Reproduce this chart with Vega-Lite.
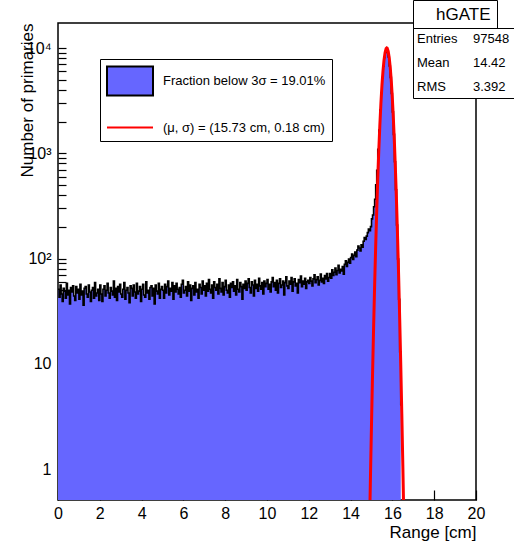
{
  "$schema": "https://vega.github.io/schema/vega-lite/v6.json",
  "width": 418,
  "height": 477,
  "autosize": {"type": "none"},
  "padding": {"left": 58, "top": 23, "right": 38, "bottom": 49},
  "background": "white",
  "config": {
    "font": "Liberation Sans",
    "view": {"stroke": "black", "strokeWidth": 1.5},
    "axis": {"domain": false, "grid": false, "labelColor": "black", "titleColor": "black", "tickColor": "black", "tickWidth": 1.2, "labelFont": "Liberation Sans", "titleFont": "Liberation Sans", "titleFontWeight": "normal", "labelOverlap": false, "labelFlush": false},
    "legend": {"labelFont": "Liberation Sans", "labelColor": "black", "titleFont": "Liberation Sans"}
  },
  "datasets": {
    "hist": [
      {"x":0,"n":51},{"x":0.05,"n":43},{"x":0.1,"n":56},{"x":0.15,"n":46},{"x":0.2,"n":39},{"x":0.25,"n":52},{"x":0.3,"n":49},{"x":0.35,"n":42},{"x":0.4,"n":58},{"x":0.45,"n":45},{"x":0.5,"n":50},{"x":0.55,"n":37},{"x":0.6,"n":53},{"x":0.65,"n":48},{"x":0.7,"n":55},{"x":0.75,"n":44},{"x":0.8,"n":40},{"x":0.85,"n":54},{"x":0.9,"n":47},{"x":0.95,"n":51},
      {"x":1,"n":41},{"x":1.05,"n":57},{"x":1.1,"n":45},{"x":1.15,"n":49},{"x":1.2,"n":36},{"x":1.25,"n":52},{"x":1.3,"n":54},{"x":1.35,"n":46},{"x":1.4,"n":43},{"x":1.45,"n":56},{"x":1.5,"n":48},{"x":1.55,"n":39},{"x":1.6,"n":50},{"x":1.65,"n":53},{"x":1.7,"n":42},{"x":1.75,"n":59},{"x":1.8,"n":44},{"x":1.85,"n":47},{"x":1.9,"n":51},{"x":1.95,"n":40},
      {"x":2,"n":56},{"x":2.05,"n":46},{"x":2.1,"n":39},{"x":2.15,"n":51},{"x":2.2,"n":55},{"x":2.25,"n":44},{"x":2.3,"n":50},{"x":2.35,"n":58},{"x":2.4,"n":47},{"x":2.45,"n":42},{"x":2.5,"n":53},{"x":2.55,"n":49},{"x":2.6,"n":45},{"x":2.65,"n":61},{"x":2.7,"n":43},{"x":2.75,"n":52},{"x":2.8,"n":40},{"x":2.85,"n":54},{"x":2.9,"n":48},{"x":2.95,"n":57},
      {"x":3,"n":46},{"x":3.05,"n":43},{"x":3.1,"n":51},{"x":3.15,"n":59},{"x":3.2,"n":41},{"x":3.25,"n":50},{"x":3.3,"n":53},{"x":3.35,"n":47},{"x":3.4,"n":38},{"x":3.45,"n":55},{"x":3.5,"n":52},{"x":3.55,"n":44},{"x":3.6,"n":56},{"x":3.65,"n":48},{"x":3.7,"n":42},{"x":3.75,"n":58},{"x":3.8,"n":46},{"x":3.85,"n":49},{"x":3.9,"n":54},{"x":3.95,"n":39},
      {"x":4,"n":51},{"x":4.05,"n":57},{"x":4.1,"n":45},{"x":4.15,"n":43},{"x":4.2,"n":60},{"x":4.25,"n":47},{"x":4.3,"n":50},{"x":4.35,"n":41},{"x":4.4,"n":53},{"x":4.45,"n":55},{"x":4.5,"n":44},{"x":4.55,"n":52},{"x":4.6,"n":37},{"x":4.65,"n":56},{"x":4.7,"n":49},{"x":4.75,"n":46},{"x":4.8,"n":58},{"x":4.85,"n":42},{"x":4.9,"n":51},{"x":4.95,"n":54},
      {"x":5,"n":50},{"x":5.05,"n":42},{"x":5.1,"n":57},{"x":5.15,"n":47},{"x":5.2,"n":54},{"x":5.25,"n":61},{"x":5.3,"n":45},{"x":5.35,"n":52},{"x":5.4,"n":49},{"x":5.45,"n":59},{"x":5.5,"n":41},{"x":5.55,"n":55},{"x":5.6,"n":48},{"x":5.65,"n":58},{"x":5.7,"n":51},{"x":5.75,"n":46},{"x":5.8,"n":53},{"x":5.85,"n":43},{"x":5.9,"n":57},{"x":5.95,"n":62},
      {"x":6,"n":47},{"x":6.05,"n":50},{"x":6.1,"n":54},{"x":6.15,"n":44},{"x":6.2,"n":60},{"x":6.25,"n":49},{"x":6.3,"n":56},{"x":6.35,"n":40},{"x":6.4,"n":52},{"x":6.45,"n":55},{"x":6.5,"n":45},{"x":6.55,"n":59},{"x":6.6,"n":48},{"x":6.65,"n":51},{"x":6.7,"n":42},{"x":6.75,"n":57},{"x":6.8,"n":53},{"x":6.85,"n":46},{"x":6.9,"n":61},{"x":6.95,"n":50},
      {"x":7,"n":55},{"x":7.05,"n":44},{"x":7.1,"n":58},{"x":7.15,"n":49},{"x":7.2,"n":63},{"x":7.25,"n":51},{"x":7.3,"n":47},{"x":7.35,"n":56},{"x":7.4,"n":42},{"x":7.45,"n":60},{"x":7.5,"n":53},{"x":7.55,"n":50},{"x":7.6,"n":57},{"x":7.65,"n":46},{"x":7.7,"n":64},{"x":7.75,"n":52},{"x":7.8,"n":48},{"x":7.85,"n":59},{"x":7.9,"n":45},{"x":7.95,"n":54},
      {"x":8,"n":62},{"x":8.05,"n":50},{"x":8.1,"n":47},{"x":8.15,"n":56},{"x":8.2,"n":43},{"x":8.25,"n":58},{"x":8.3,"n":53},{"x":8.35,"n":60},{"x":8.4,"n":49},{"x":8.45,"n":55},{"x":8.5,"n":45},{"x":8.55,"n":63},{"x":8.6,"n":51},{"x":8.65,"n":48},{"x":8.7,"n":59},{"x":8.75,"n":54},{"x":8.8,"n":41},{"x":8.85,"n":57},{"x":8.9,"n":52},{"x":8.95,"n":61},
      {"x":9,"n":50},{"x":9.05,"n":58},{"x":9.1,"n":64},{"x":9.15,"n":53},{"x":9.2,"n":47},{"x":9.25,"n":60},{"x":9.3,"n":56},{"x":9.35,"n":44},{"x":9.4,"n":62},{"x":9.45,"n":52},{"x":9.5,"n":57},{"x":9.55,"n":49},{"x":9.6,"n":65},{"x":9.65,"n":55},{"x":9.7,"n":51},{"x":9.75,"n":59},{"x":9.8,"n":46},{"x":9.85,"n":61},{"x":9.9,"n":54},{"x":9.95,"n":58},
      {"x":10,"n":63},{"x":10.05,"n":51},{"x":10.1,"n":57},{"x":10.15,"n":48},{"x":10.2,"n":60},{"x":10.25,"n":66},{"x":10.3,"n":54},{"x":10.35,"n":59},{"x":10.4,"n":50},{"x":10.45,"n":62},{"x":10.5,"n":47},{"x":10.55,"n":58},{"x":10.6,"n":64},{"x":10.65,"n":53},{"x":10.7,"n":56},{"x":10.75,"n":61},{"x":10.8,"n":45},{"x":10.85,"n":59},{"x":10.9,"n":67},{"x":10.95,"n":55},
      {"x":11,"n":52},{"x":11.05,"n":61},{"x":11.1,"n":57},{"x":11.15,"n":66},{"x":11.2,"n":49},{"x":11.25,"n":60},{"x":11.3,"n":64},{"x":11.35,"n":55},{"x":11.4,"n":58},{"x":11.45,"n":47},{"x":11.5,"n":63},{"x":11.55,"n":59},{"x":11.6,"n":68},{"x":11.65,"n":54},{"x":11.7,"n":61},{"x":11.75,"n":57},{"x":11.8,"n":65},{"x":11.85,"n":52},{"x":11.9,"n":60},{"x":11.95,"n":62},
      {"x":12,"n":58},{"x":12.05,"n":66},{"x":12.1,"n":61},{"x":12.15,"n":55},{"x":12.2,"n":64},{"x":12.25,"n":70},{"x":12.3,"n":59},{"x":12.35,"n":63},{"x":12.4,"n":67},{"x":12.45,"n":56},{"x":12.5,"n":62},{"x":12.55,"n":71},{"x":12.6,"n":60},{"x":12.65,"n":65},{"x":12.7,"n":58},{"x":12.75,"n":69},{"x":12.8,"n":64},{"x":12.85,"n":72},{"x":12.9,"n":61},{"x":12.95,"n":66},
      {"x":13,"n":72},{"x":13.05,"n":65},{"x":13.1,"n":78},{"x":13.15,"n":69},{"x":13.2,"n":74},{"x":13.25,"n":81},{"x":13.3,"n":70},{"x":13.35,"n":77},{"x":13.4,"n":86},{"x":13.45,"n":73},{"x":13.5,"n":79},{"x":13.55,"n":76},{"x":13.6,"n":84},{"x":13.65,"n":71},{"x":13.7,"n":88},{"x":13.75,"n":95},{"x":13.8,"n":84},{"x":13.85,"n":92},{"x":13.9,"n":99},{"x":13.95,"n":90},
      {"x":14,"n":102},{"x":14.05,"n":110},{"x":14.1,"n":98},{"x":14.15,"n":107},{"x":14.2,"n":115},{"x":14.25,"n":104},{"x":14.3,"n":120},{"x":14.35,"n":131},{"x":14.4,"n":126},{"x":14.45,"n":118},{"x":14.5,"n":135},{"x":14.55,"n":128},{"x":14.6,"n":146},{"x":14.65,"n":158},{"x":14.7,"n":152},{"x":14.75,"n":163},{"x":14.8,"n":176},{"x":14.85,"n":190},{"x":14.9,"n":184},{"x":14.95,"n":201},
      {"x":15,"n":238},{"x":15.05,"n":259},{"x":15.1,"n":310},{"x":15.15,"n":365},{"x":15.2,"n":502},{"x":15.25,"n":690},{"x":15.3,"n":1090},{"x":15.35,"n":1660},{"x":15.4,"n":2580},{"x":15.45,"n":3720},{"x":15.5,"n":5230},{"x":15.55,"n":6700},{"x":15.6,"n":8150},{"x":15.65,"n":9080},{"x":15.7,"n":9460},{"x":15.75,"n":9170},{"x":15.8,"n":8210},{"x":15.85,"n":6750},{"x":15.9,"n":5260},{"x":15.95,"n":3690},
      {"x":16,"n":2470},{"x":16.05,"n":1510},{"x":16.1,"n":830},{"x":16.15,"n":450},{"x":16.2,"n":208},{"x":16.25,"n":99},{"x":16.3,"n":41},{"x":16.35,"n":13},{"x":16.4,"n":4}
    ],
    "fit": [
      {"x":14.9,"f":0.24},{"x":14.95,"f":0.84},{"x":15,"f":2.68},{"x":15.05,"f":7.96},{"x":15.1,"f":21.9},{"x":15.15,"f":55.6},{"x":15.2,"f":131},{"x":15.25,"f":286},{"x":15.3,"f":577},{"x":15.35,"f":1077},{"x":15.4,"f":1862},{"x":15.45,"f":2982},{"x":15.5,"f":4420},{"x":15.55,"f":6065},{"x":15.6,"f":7704},{"x":15.65,"f":9060},{"x":15.7,"f":9862},{"x":15.73,"f":10000},{"x":15.75,"f":9938},{"x":15.8,"f":9272},{"x":15.85,"f":8007},{"x":15.9,"f":6402},{"x":15.95,"f":4738},{"x":16,"f":3247},{"x":16.05,"f":2059},{"x":16.1,"f":1209},{"x":16.15,"f":657},{"x":16.2,"f":331},{"x":16.25,"f":154},{"x":16.3,"f":66.5},{"x":16.35,"f":26.5},{"x":16.4,"f":9.8},{"x":16.45,"f":3.35},{"x":16.5,"f":1.06},{"x":16.55,"f":0.31}
    ],
    "keys": [
      {"k": "Fraction below 3σ = 19.01%"}, {"k": "(μ, σ) = (15.73 cm, 0.18 cm)"}
    ],
    "stats": [
      {"t": "Entries"}, {"t": "Mean"}, {"t": "RMS"}, {"t": "97548"}, {"t": "14.42"}, {"t": "3.392"}
    ]
  },
  "layer": [
    {
      "data": {"name": "hist"},
      "mark": {"type": "area", "interpolate": "step-after", "clip": true, "color": "#6666ff"},
      "encoding": {
        "x": {"field": "x", "type": "quantitative", "scale": {"domain": [0, 20], "nice": false, "zero": false},
          "axis": {
            "orient": "bottom",
            "values": [0,0.5,1,1.5,2,2.5,3,3.5,4,4.5,5,5.5,6,6.5,7,7.5,8,8.5,9,9.5,10,10.5,11,11.5,12,12.5,13,13.5,14,14.5,15,15.5,16,16.5,17,17.5,18,18.5,19,19.5,20],
            "labelExpr": "datum.value % 2 === 0 ? format(datum.value, 'd') : ''",
            "tickSize": -10,
            "labelFontSize": 16, "labelPadding": 15,
            "title": "Range [cm]", "titleFontSize": 17, "titleAnchor": "end", "titleAlign": "right", "titlePadding": 3
          }},
        "y": {"field": "n", "type": "quantitative", "scale": {"type": "log", "domain": [0.5076, 17280], "nice": false},
          "axis": {
            "orient": "left",
            "values": [0.6,0.7,0.8,0.9,1,2,3,4,5,6,7,8,9,10,20,30,40,50,60,70,80,90,100,200,300,400,500,600,700,800,900,1000,2000,3000,4000,5000,6000,7000,8000,9000,10000],
            "labelExpr": "datum.value === 1 ? '1' : datum.value === 10 ? '10' : datum.value === 100 ? '10²' : datum.value === 1000 ? '10³' : datum.value === 10000 ? '10⁴' : ''",
            "tickSize": -8,
            "labelFontSize": 16, "labelPadding": 15,
            "title": "Number of primaries", "titleFontSize": 17, "titleAnchor": "end", "titleAlign": "right", "titleAngle": 270, "titleX": -31, "titleY": 0, "titleBaseline": "middle"
          }},
        "y2": {"datum": 0.5076}
      }
    },
    {
      "data": {"name": "hist"},
      "mark": {"type": "line", "interpolate": "step-after", "color": "black", "strokeWidth": 1.6, "clip": true},
      "encoding": {
        "x": {"field": "x", "type": "quantitative"},
        "y": {"field": "n", "type": "quantitative"}
      }
    },
    {
      "data": {"name": "fit"},
      "mark": {"type": "line", "strokeWidth": 3, "clip": true, "color": "#ff0000"},
      "encoding": {
        "x": {"field": "x", "type": "quantitative"},
        "y": {"field": "f", "type": "quantitative"}
      }
    },
    {
      "data": {"name": "keys"},
      "mark": {"type": "point", "opacity": 0},
      "encoding": {
        "fill": {"field": "k", "type": "nominal",
          "scale": {"domain": ["Fraction below 3σ = 19.01%", "(μ, σ) = (15.73 cm, 0.18 cm)"], "range": ["#6666ff", "transparent"]},
          "legend": {"orient": "none", "legendX": 42, "legendY": 36, "title": null, "strokeColor": "black", "fillColor": "white", "padding": 6,
            "labelFontSize": 13, "labelOffset": 25, "labelLimit": 400, "rowPadding": 11.5, "symbolSize": 900, "symbolStrokeWidth": 2, "symbolOpacity": 1,
            "labelExpr": "datum.label + '\u00a0\u00a0\u00a0\u00a0\u00a0\u00a0\u00a0\u00a0'"}},
        "stroke": {"field": "k", "type": "nominal",
          "scale": {"domain": ["Fraction below 3σ = 19.01%", "(μ, σ) = (15.73 cm, 0.18 cm)"], "range": ["black", "#ff0000"]},
          "legend": {"orient": "none", "legendX": 42, "legendY": 36, "title": null, "strokeColor": "black", "fillColor": "white", "padding": 6,
            "labelFontSize": 13, "labelOffset": 25, "labelLimit": 400, "rowPadding": 11.5, "symbolSize": 900, "symbolStrokeWidth": 2, "symbolOpacity": 1,
            "labelExpr": "datum.label + '\u00a0\u00a0\u00a0\u00a0\u00a0\u00a0\u00a0\u00a0'"}},
        "shape": {"field": "k", "type": "nominal",
          "scale": {"domain": ["Fraction below 3σ = 19.01%", "(μ, σ) = (15.73 cm, 0.18 cm)"], "range": ["M-1,-0.967H2.067V0.967H-1Z", "M-1,0H2.067"]},
          "legend": {"orient": "none", "legendX": 42, "legendY": 36, "title": null, "strokeColor": "black", "fillColor": "white", "padding": 6,
            "labelFontSize": 13, "labelOffset": 25, "labelLimit": 400, "rowPadding": 11.5, "symbolSize": 900, "symbolStrokeWidth": 2, "symbolOpacity": 1,
            "labelExpr": "datum.label + '\u00a0\u00a0\u00a0\u00a0\u00a0\u00a0\u00a0\u00a0'"}}
      }
    },
    {
      "data": {"values": [{"s": "hGATE"}]},
      "mark": {"type": "point", "opacity": 0},
      "encoding": {
        "color": {"field": "s", "type": "nominal",
          "legend": {"orient": "none", "legendX": 355, "legendY": -23, "title": null, "strokeColor": "black", "fillColor": "white", "padding": 6,
            "labelFontSize": 17, "labelOffset": 0, "symbolSize": 0, "symbolOpacity": 0, "symbolStrokeWidth": 0,
            "labelExpr": "'\u2002\u2002' + datum.label + '\u2002\u2002'"}}
      }
    },
    {
      "data": {"name": "stats"},
      "mark": {"type": "point", "opacity": 0},
      "encoding": {
        "size": {"field": "t", "type": "ordinal", "sort": null, "scale": {"range": [1, 1, 1, 1, 1, 1]},
          "legend": {"orient": "none", "legendX": 355, "legendY": 5, "title": null, "columns": 2, "strokeColor": "black", "fillColor": "white", "padding": 4,
            "labelFontSize": 13, "labelOffset": -13, "symbolSize": 0, "symbolOpacity": 0, "symbolStrokeWidth": 0, "rowPadding": 10, "columnPadding": 15,
            "labelExpr": "datum.label === '14.42' || datum.label === '3.392' ? '\u2008' + datum.label : datum.label"}}
      }
    }
  ]
}
